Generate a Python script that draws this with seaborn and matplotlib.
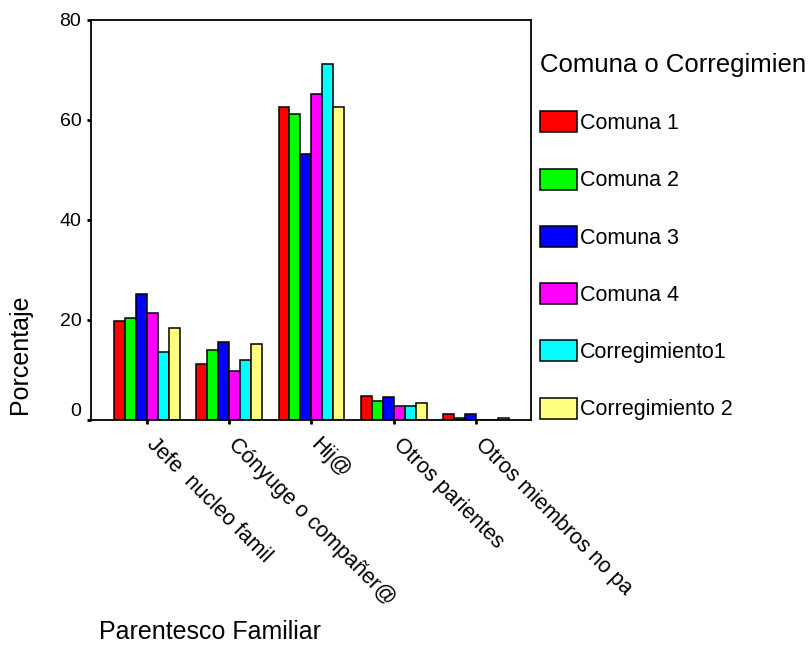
import numpy as np
import pandas as pd
import seaborn as sns
import matplotlib.pyplot as plt
from matplotlib.transforms import ScaledTranslation

sns.set_style('white')
plt.rcParams['font.family'] = ['Liberation Sans', 'DejaVu Sans']
plt.rcParams['text.color'] = 'black'
plt.rcParams['axes.labelcolor'] = 'black'
plt.rcParams['xtick.color'] = 'black'
plt.rcParams['ytick.color'] = 'black'

# datos
parentesco = ['Jefe  nucleo famil', 'Cónyuge o compañer@', 'Hij@',
              'Otros parientes', 'Otros miembros no pa']
comunas = ['Comuna 1', 'Comuna 2', 'Comuna 3', 'Comuna 4',
           'Corregimiento1', 'Corregimiento 2']
comuna_1 = [19.9, 11.3, 62.7, 4.9, 1.2]
comuna_2 = [20.5, 14.1, 61.3, 3.8, 0.4]
comuna_3 = [25.3, 15.6, 53.2, 4.7, 1.3]
comuna_4 = [21.5, 9.9, 65.3, 2.9, 0.0]
corregimiento_1 = [13.6, 12.1, 71.3, 2.9, 0.0]
corregimiento_2 = [18.4, 15.3, 62.7, 3.5, 0.4]
colores = ['#ff0000', '#00ff00', '#0000ff', '#ff00ff', '#00ffff', '#ffff80']

series = [comuna_1, comuna_2, comuna_3, comuna_4, corregimiento_1, corregimiento_2]
rows = []
for nombre, vals in zip(comunas, series):
    for cat, v in zip(parentesco, vals):
        rows.append({'Parentesco Familiar': cat, 'Comuna': nombre, 'Porcentaje': v})
df = pd.DataFrame(rows)

fig = plt.figure(figsize=(8.09, 6.53), dpi=100)
ax = fig.add_axes([91 / 809, 1 - 420 / 653, 440 / 809, 400 / 653])

sns.barplot(data=df, x='Parentesco Familiar', y='Porcentaje', hue='Comuna',
            order=parentesco, hue_order=comunas, palette=colores,
            edgecolor='black', linewidth=1.1, width=0.8, saturation=1, ax=ax)

ax.set_ylim(0, 80)
ax.set_xlim(-0.68, 4.67)
ax.set_yticks([0, 20, 40, 60, 80])
for s in ax.spines.values():
    s.set_visible(True)
    s.set_color('black')
    s.set_linewidth(1.3)
ax.tick_params(axis='both', length=3, width=2, color='black', labelsize=14,
               bottom=True, left=True)
ax.tick_params(axis='y', pad=4)

# etiquetas del eje x en diagonal
ax.set_xticks(range(len(parentesco)))
ax.set_xticklabels(parentesco, rotation=-45, rotation_mode='anchor',
                   ha='left', va='top', fontsize=15.5)
off = ScaledTranslation(10 / 100, -5 / 100, fig.dpi_scale_trans)
for lab in ax.get_xticklabels():
    lab.set_transform(lab.get_transform() + off)

# el 0 va un poco mas arriba, como en el original
ylabs = ax.get_yticklabels()
ylabs[0].set_transform(ylabs[0].get_transform() + ScaledTranslation(0, 10 / 100, fig.dpi_scale_trans))

ax.set_xlabel('Parentesco Familiar', fontsize=18, ha='left', va='center')
ax.xaxis.set_label_coords((99 - 91) / 440, (420 - 632) / 400)
ax.set_ylabel('Porcentaje', fontsize=18, va='center')
ax.yaxis.set_label_coords((20 - 91) / 440, (420 - 354) / 400)

ax.legend(title='Comuna o Corregimien', loc='upper left',
          bbox_to_anchor=(540 / 809, 1 - 53 / 653), bbox_transform=fig.transFigure,
          frameon=False, fontsize=15.5, title_fontsize=18.5, alignment='left',
          handlelength=1.71, handleheight=1.12, handletextpad=0.15,
          labelspacing=1.6, borderpad=0, borderaxespad=0)

fig.savefig('out.png', dpi=100)
